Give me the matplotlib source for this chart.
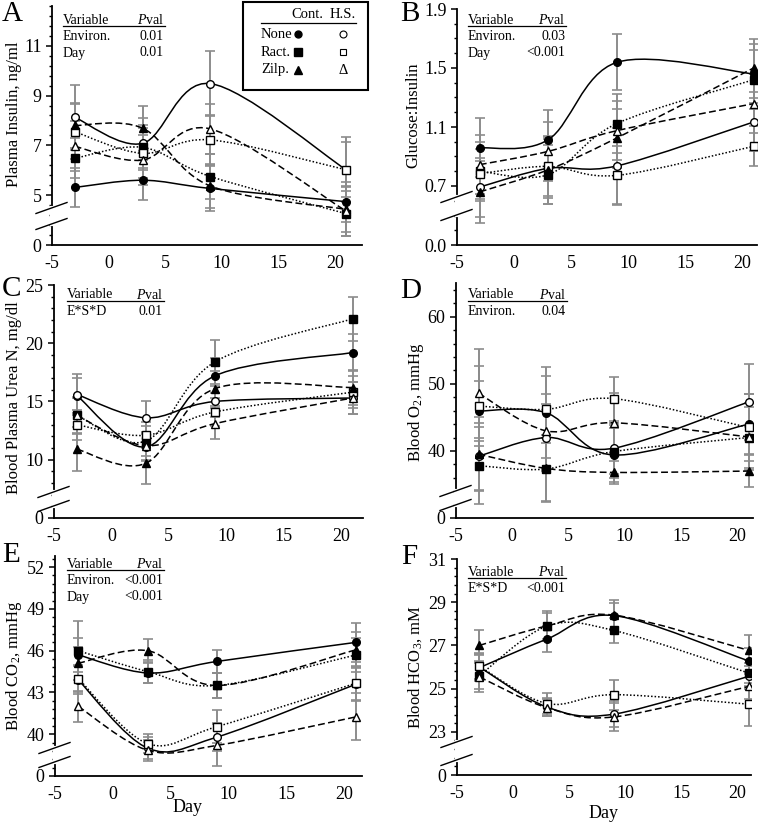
import numpy as np
import matplotlib
matplotlib.use("Agg")
import matplotlib.pyplot as plt
from matplotlib.path import Path
from matplotlib.patches import PathPatch, Rectangle
from matplotlib.lines import Line2D
from matplotlib.ticker import FixedLocator

plt.rcParams['font.family'] = ['Liberation Serif', 'DejaVu Sans']
plt.rcParams['mathtext.fontset'] = 'custom'
plt.rcParams['mathtext.rm'] = 'Liberation Serif'
plt.rcParams['mathtext.it'] = 'Liberation Serif:italic'

# days of sampling
days = [-3, 3, 9, 21]

# series order: None Cont, None H.S., Ract Cont, Ract H.S., Zilp Cont, Zilp H.S.
insulin_mean = [[5.31, 5.60, 5.27, 4.74], [8.13, 7.08, 9.48, 6.02],
                [6.48, 6.92, 5.75, 4.26], [7.55, 6.68, 7.22, 6.02],
                [7.80, 7.69, 5.37, 4.43], [6.96, 6.41, 7.66, 4.36]]
insulin_se = [[0.8, 0.8, 0.9, 0.8], [1.3, 1.0, 1.3, 1.3],
              [0.8, 0.9, 0.9, 0.9], [1.1, 1.0, 1.0, 1.1],
              [0.9, 0.9, 0.9, 0.9], [1.0, 1.0, 1.0, 1.0]]

gi_mean = [[0.958, 1.014, 1.538, 1.46], [0.693, 0.82, 0.836, 1.134],
           [0.80, 0.777, 1.123, 1.42], [0.784, 0.833, 0.772, 0.969],
           [0.66, 0.81, 1.025, 1.50], [0.845, 0.935, 1.075, 1.258]]
gi_se = [[0.2, 0.2, 0.19, 0.2], [0.2, 0.2, 0.26, 0.2],
         [0.2, 0.2, 0.2, 0.2], [0.17, 0.2, 0.2, 0.136],
         [0.21, 0.23, 0.2, 0.2], [0.2, 0.2, 0.2, 0.2]]

pun_mean = [[15.5, 11.1, 17.2, 19.2], [15.6, 13.6, 15.0, 15.3],
            [13.8, 11.6, 18.4, 22.1], [13.0, 12.1, 14.1, 15.8],
            [10.9, 9.7, 16.1, 16.2], [13.8, 11.2, 13.1, 15.3]]
pun_se = [[1.5, 1.2, 1.5, 1.6], [1.8, 1.4, 1.3, 1.4],
          [1.6, 1.3, 1.9, 1.9], [1.3, 1.1, 1.2, 1.4],
          [1.9, 1.8, 1.5, 1.5], [1.5, 1.2, 1.3, 1.4]]

o2_mean = [[45.95, 45.7, 39.4, 44.0], [39.2, 42.0, 40.4, 47.3],
           [37.8, 37.3, 39.9, 42.0], [46.7, 46.2, 47.8, 43.5],
           [39.5, 37.4, 36.8, 37.0], [48.6, 43.0, 44.2, 42.1]]
o2_se = [[4.5, 6.8, 4.0, 4.5], [5.0, 5.0, 3.8, 5.7],
         [5.7, 4.7, 4.0, 4.5], [6.0, 5.0, 3.3, 5.0],
         [5.5, 5.0, 1.7, 2.4], [6.6, 5.5, 4.5, 5.0]]

co2_mean = [[45.7, 44.4, 45.23, 46.6], [43.9, 39.0, 39.8, 43.6],
            [46.0, 44.5, 43.5, 45.7], [44.0, 39.33, 40.55, 43.67],
            [45.1, 46.0, 43.5, 46.07], [42.0, 38.85, 39.2, 41.25]]
co2_se = [[1.2, 0.7, 0.8, 1.4], [1.0, 0.8, 1.0, 1.2],
          [2.1, 0.8, 0.9, 1.2], [1.0, 0.7, 1.2, 1.2],
          [1.2, 0.84, 0.9, 1.3], [1.1, 0.75, 1.5, 1.7]]

hco3_mean = [[25.97, 27.29, 28.38, 26.28], [26.0, 24.15, 23.82, 25.57],
             [25.6, 27.89, 27.69, 25.72], [26.03, 24.31, 24.72, 24.28],
             [27.0, 27.9, 28.4, 26.77], [25.54, 24.12, 23.69, 25.1]]
hco3_se = [[0.6, 0.6, 0.6, 0.6], [0.6, 0.4, 0.6, 0.6],
           [0.6, 0.7, 0.6, 0.6], [0.6, 0.5, 0.7, 1.0],
           [0.7, 0.6, 0.7, 0.73], [0.7, 0.4, 0.64, 0.6]]

W, H = 762, 824
fig = plt.figure(figsize=(W / 100, H / 100), dpi=100)


def fx(x):
    return x / W


def fy(y):
    return 1 - y / H


def smooth_path(x, y):
    # Excel-like smoothed line, drawn as cubic Bezier segments
    pts = list(zip(x, y))
    n = len(pts)
    verts = [pts[0]]
    codes = [Path.MOVETO]
    for i in range(n - 1):
        p0 = pts[i - 1] if i > 0 else pts[i]
        p1, p2 = pts[i], pts[i + 1]
        p3 = pts[i + 2] if i + 2 < n else pts[i + 1]
        c1 = (p1[0] + (p2[0] - p0[0]) / 6, p1[1] + (p2[1] - p0[1]) / 6)
        c2 = (p2[0] - (p3[0] - p1[0]) / 6, p2[1] - (p3[1] - p1[1]) / 6)
        verts += [c1, c2, p2]
        codes += [Path.CURVE4] * 3
    return Path(verts, codes)


styles = [('o', 'k', '-'), ('o', 'w', '-'),
          ('s', 'k', (0, (1, 1.3))), ('s', 'w', (0, (1, 1.3))),
          ('^', 'k', (0, (4.5, 2.2))), ('^', 'w', (0, (4.5, 2.2)))]
msizes = {'o': 5.5, 's': 5.5, '^': 6}


def panel(rect, means, ses, ylim, xmax, yticks, ylabels, yminor, letter,
          ylabel, ylab_pos, letter_pos, table, table_pos, brk, xlab_pos=None):
    L, R, T, B = rect
    ax = fig.add_axes([fx(L), fy(B), (R - L) / W, (B - T) / H])
    ax.set_xlim(-5, xmax)
    ax.set_ylim(*ylim)
    for sp in ['top', 'right']:
        ax.spines[sp].set_visible(False)
    for sp in ['left', 'bottom']:
        ax.spines[sp].set_linewidth(1.3)
    ax.set_xticks([-5, 0, 5, 10, 15, 20])
    ax.set_xticklabels(['-5', '0', '5', '10', '15', '20'])
    ax.set_yticks(yticks)
    ax.set_yticklabels(ylabels)
    ax.yaxis.set_minor_locator(FixedLocator(yminor))
    ax.tick_params(axis='x', length=0, pad=7, labelsize=13)
    ax.tick_params(axis='y', which='major', length=4.5, width=1.1, pad=3, labelsize=13)
    ax.tick_params(axis='y', which='minor', length=2.5, width=1.0)

    for m, s in zip(means, ses):
        ax.errorbar(days, m, yerr=s, fmt='none', ecolor='#8c8c8c',
                    elinewidth=1.4, capsize=3.5, capthick=1.2, zorder=1)
    for (mk, fc, ls), m in zip(styles, means):
        ax.add_patch(PathPatch(smooth_path(days, m), fill=False,
                               edgecolor='k', lw=1.1, linestyle=ls, zorder=2))
    for (mk, fc, ls), m in zip(styles, means):
        ax.plot(days, m, linestyle='none', marker=mk, ms=msizes[mk],
                mfc=fc, mec='k', mew=1.0, zorder=3)

    fig.text(fx(ylab_pos[0]), fy(ylab_pos[1]), ylabel, rotation=90,
             ha='center', va='center', fontsize=12)
    fig.text(fx(letter_pos[0]), fy(letter_pos[1]), letter, ha='left',
             va='center', fontsize=21)
    if xlab_pos:
        fig.text(fx(xlab_pos[0]), fy(xlab_pos[1]), 'Day', ha='center',
                 va='center', fontsize=13)

    # statistics table
    tx, ty, tr = table_pos
    fig.text(fx(tx), fy(ty), 'Variable', ha='left', va='center', fontsize=10)
    fig.text(fx(tr), fy(ty), '$P$val', ha='right', va='center', fontsize=10)
    fig.add_artist(Line2D([fx(tx), fx(tr + 1)], [fy(ty + 6), fy(ty + 6)],
                          color='k', lw=0.9))
    for i, (name, pv) in enumerate(table):
        yy = ty + 16.5 * (i + 1)
        fig.text(fx(tx), fy(yy), name, ha='left', va='center', fontsize=10)
        fig.text(fx(tr), fy(yy), pv, ha='right', va='center', fontsize=10)

    # axis break
    y1, y2 = brk
    fig.add_artist(Line2D([fx(L), fx(L)], [fy(y1), fy(y2)], color='w', lw=3))
    for yb in (y1, y2):
        fig.add_artist(Line2D([fx(L - 16), fx(L + 15)], [fy(yb + 5.5), fy(yb - 5.5)],
                              color='k', lw=1.0))
    return ax


panel((52, 362, 5.9, 245), insulin_mean, insulin_se, (3, 12.6), 22.4,
      [3, 5, 7, 9, 11], ['0', '5', '7', '9', '11'], np.arange(3, 12.61, 0.4),
      'A', 'Plasma Insulin, ng/ml', (14, 114), (2, 14),
      [('Environ.', '0.01'), ('Day', '0.01')], (63, 20, 164), (208, 224))

panel((457, 757, 9, 245), gi_mean, gi_se, (0.3, 1.9), 21.3,
      [0.3, 0.7, 1.1, 1.5, 1.9], ['0.0', '0.7', '1.1', '1.5', '1.9'],
      np.arange(0.3, 1.91, 0.1),
      'B', 'Glucose:Insulin', (413, 115), (400, 14),
      [('Environ.', '0.03'), ('Day', '<0.001')], (468, 20, 565), (197, 215))

panel((54, 363, 285, 518), pun_mean, pun_se, (5, 25), 21.9,
      [5, 10, 15, 20, 25], ['0', '10', '15', '20', '25'], np.arange(5, 25.1, 1),
      'C', 'Blood Plasma Urea N, mg/dl', (14, 398), (2, 289),
      [('E*S*D', '0.01')], (67, 295, 163), (492, 506))

panel((456, 753, 283.3, 518), o2_mean, o2_se, (30, 65), 21.4,
      [30, 40, 50, 60], ['0', '40', '50', '60'], np.arange(30, 65, 2),
      'D', 'Blood O$_2$, mmHg', (416, 402), (400, 291),
      [('Environ.', '0.04')], (468, 295, 566), (491, 505))

panel((55, 362, 556, 776), co2_mean, co2_se, (37, 52.8), 21.5,
      [37, 40, 43, 46, 49, 52], ['0', '40', '43', '46', '49', '52'],
      np.arange(37, 52.81, 0.6),
      'E', 'Blood CO$_2$, mmHg', (14, 666), (2, 555),
      [('Environ.', '<0.001'), ('Day', '<0.001')], (67, 564, 163), (748, 762),
      xlab_pos=(188, 808))

panel((457, 751, 559, 775), hco3_mean, hco3_se, (21, 31), 21.2,
      [21, 23, 25, 27, 29, 31], ['0', '23', '25', '27', '29', '31'],
      np.arange(21, 31.01, 0.4),
      'F', 'Blood HCO$_3$, mM', (415, 667), (401, 557),
      [('E*S*D', '<0.001')], (468, 572, 565), (742, 760),
      xlab_pos=(604, 813))

# legend box in panel A
fig.add_artist(Rectangle((fx(243), fy(90)), (368 - 243) / W, (90 - 2) / H,
                         transform=fig.transFigure, fill=True, facecolor='w',
                         edgecolor='k', lw=1.5, zorder=5))
fig.text(fx(307), fy(15), 'Cont.', ha='center', va='center', fontsize=10.5, zorder=6)
fig.text(fx(343), fy(15), 'H.S.', ha='center', va='center', fontsize=10.5, zorder=6)
fig.add_artist(Line2D([fx(261), fx(356)], [fy(23), fy(23)], color='k', lw=0.9, zorder=6))
leg_rows = [('None', 'o'), ('Ract.', 's'), ('Zilp.', '^')]
for i, (name, mk) in enumerate(leg_rows):
    yy = 34 + 18 * i
    fig.text(fx(261), fy(yy), name, ha='left', va='center', fontsize=10.5, zorder=6)
    fig.add_artist(Line2D([fx(298)], [fy(yy)], marker=mk, ms=6 if mk != 'o' else 5,
                          mfc='k', mec='k', linestyle='none', zorder=6))
    if mk == '^':
        fig.text(fx(343), fy(yy), 'Δ', ha='center', va='center', fontsize=10.5, zorder=6)
    else:
        fig.add_artist(Line2D([fx(343)], [fy(yy)], marker=mk, ms=5,
                              mfc='w', mec='k', mew=0.8, linestyle='none', zorder=6))

fig.savefig('out.png', dpi=100)
